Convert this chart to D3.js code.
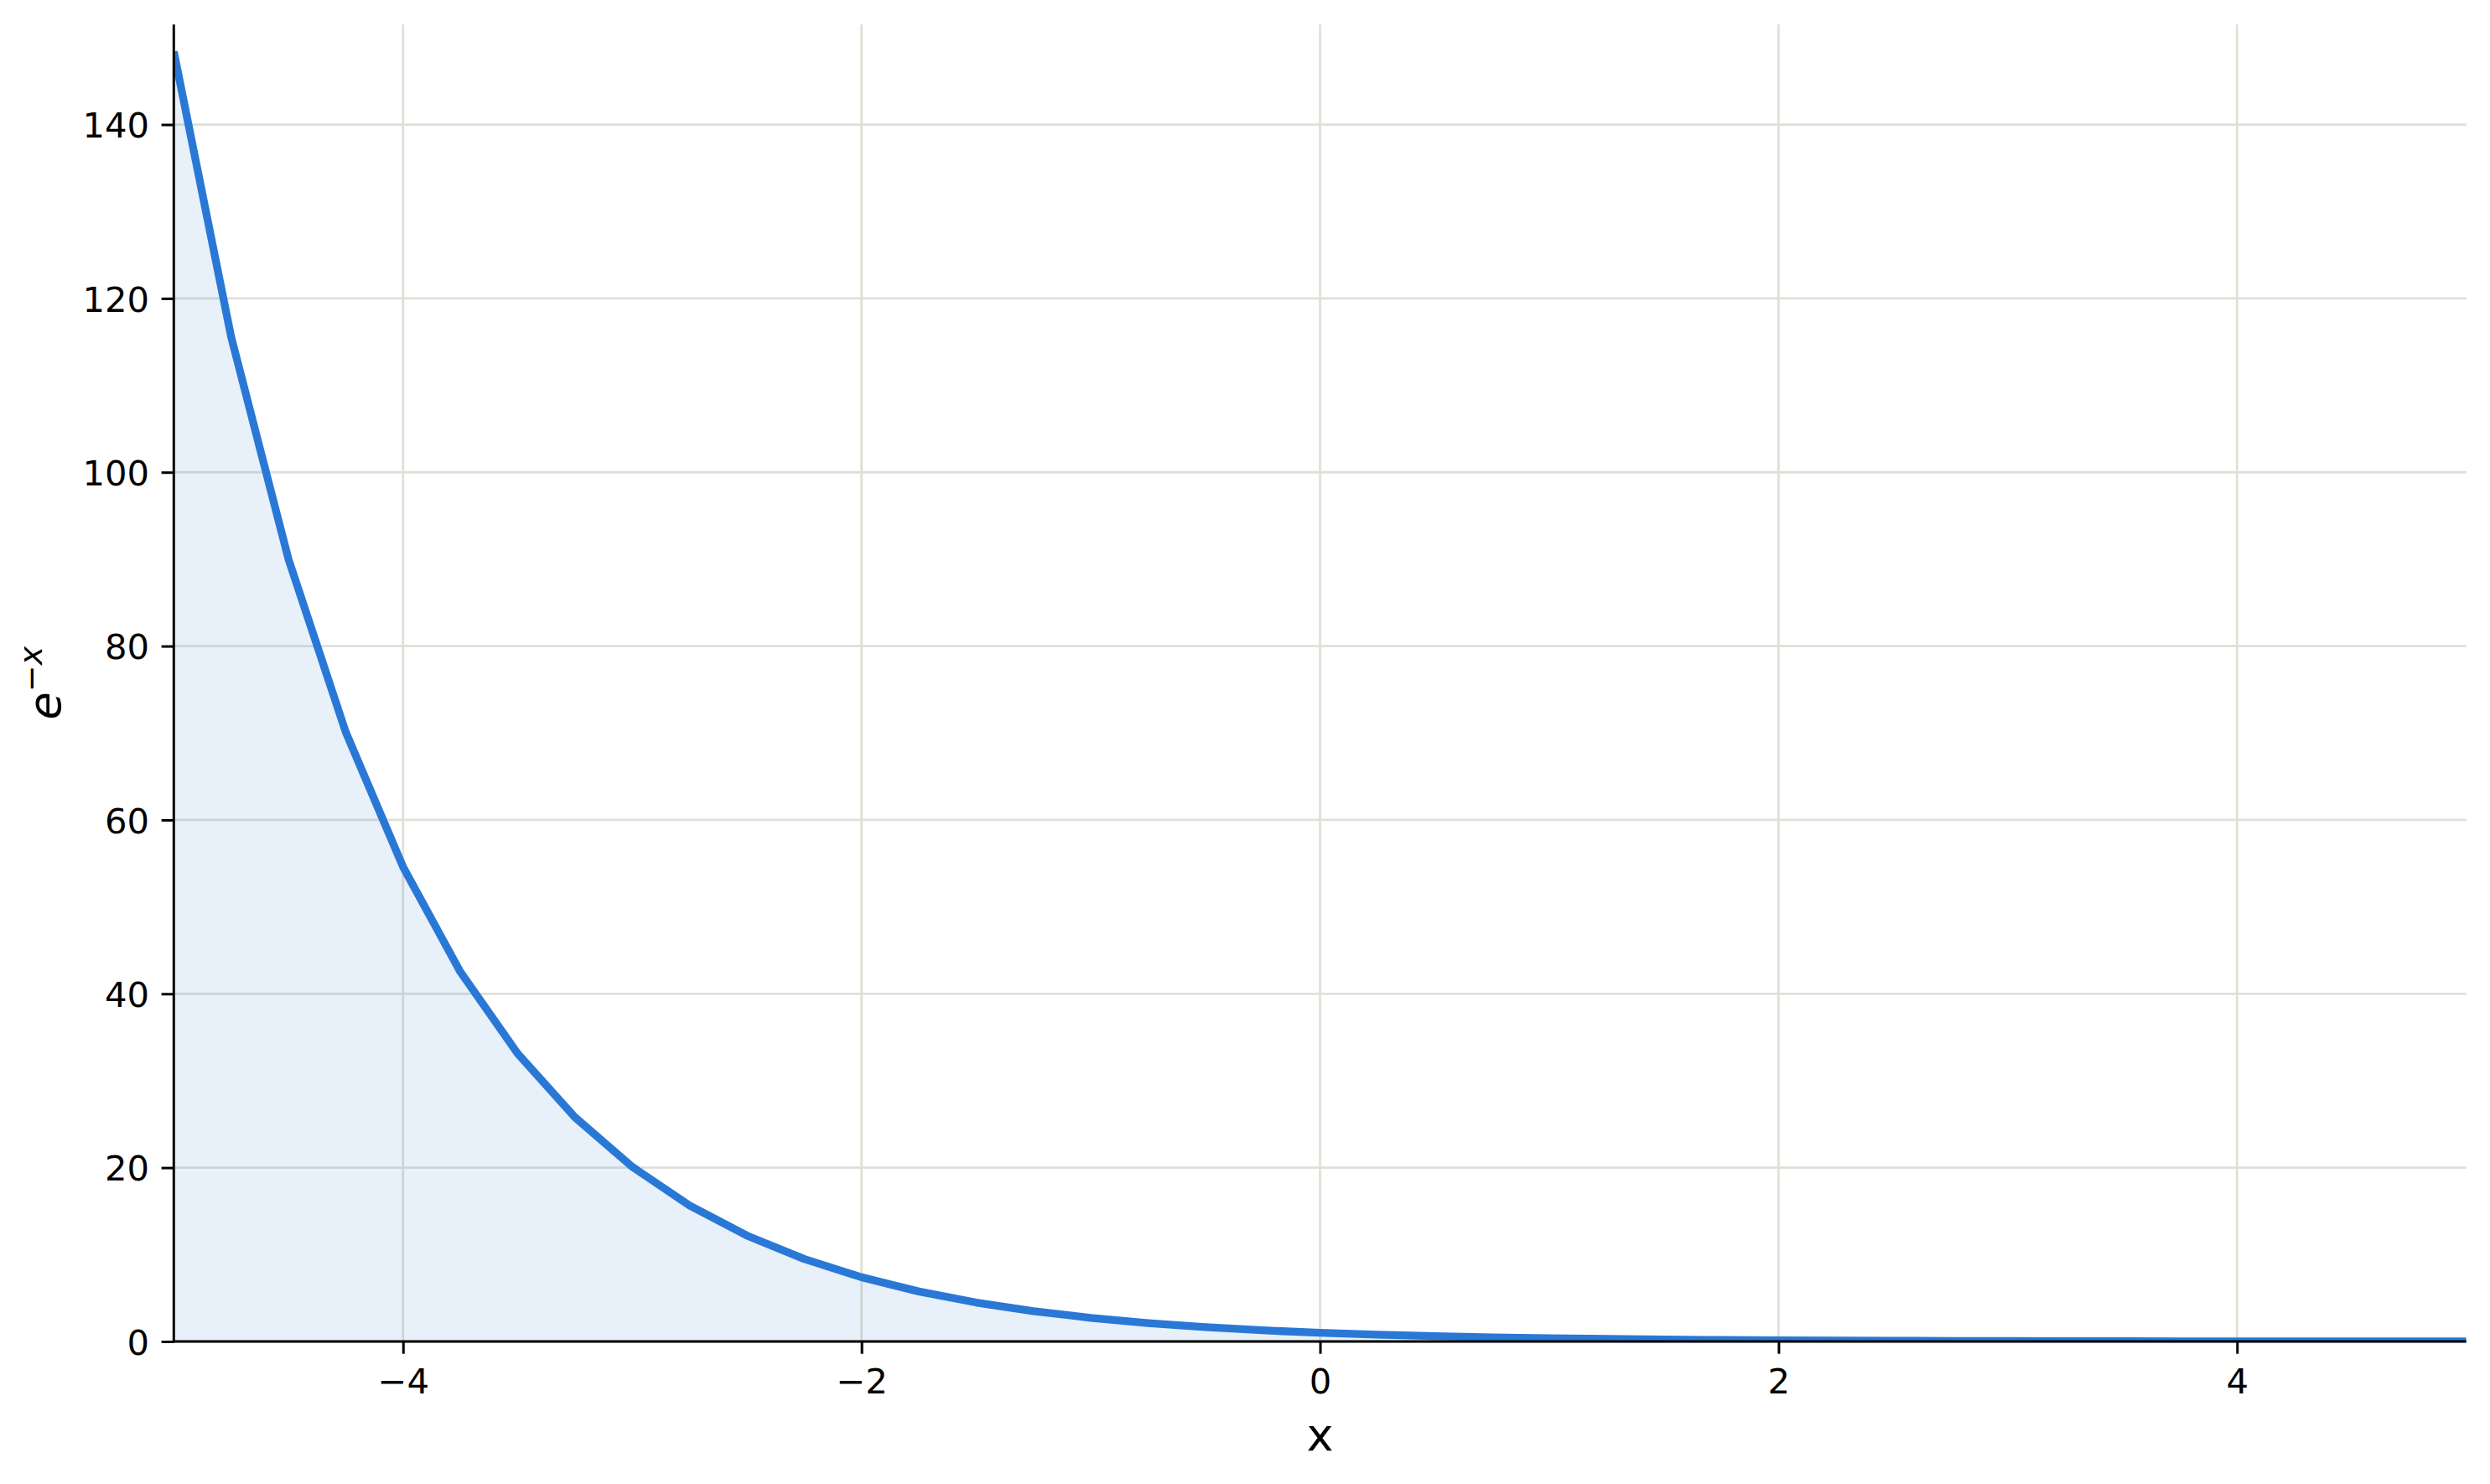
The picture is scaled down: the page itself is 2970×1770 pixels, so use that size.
<!DOCTYPE html>
<html>
<head>
<meta charset="utf-8">
<script src="https://cdn.jsdelivr.net/npm/d3@7"></script>
<style>
  html, body { margin: 0; padding: 0; background: #ffffff; }
  svg { display: block; }
  text { font-family: "DejaVu Sans", sans-serif; fill: #000; }
</style>
</head>
<body>
<svg id="chart" width="2970" height="1770"></svg>
<script>
// ---- data ----
const xValues = [-5, -4.75, -4.5, -4.25, -4, -3.75, -3.5, -3.25, -3, -2.75, -2.5, -2.25, -2,
  -1.75, -1.5, -1.25, -1, -0.75, -0.5, -0.25, 0, 0.25, 0.5, 0.75, 1, 1.25, 1.5, 1.75, 2,
  2.25, 2.5, 2.75, 3, 3.25, 3.5, 3.75, 4, 4.25, 4.5, 4.75, 5];
const yValues = [148.41, 115.58, 90.02, 70.11, 54.60, 42.52, 33.12, 25.79, 20.09, 15.64, 12.18,
  9.49, 7.39, 5.75, 4.48, 3.49, 2.72, 2.12, 1.65, 1.28, 1.00, 0.78, 0.61, 0.47, 0.37, 0.29,
  0.22, 0.17, 0.14, 0.11, 0.08, 0.06, 0.05, 0.04, 0.03, 0.02, 0.02, 0.01, 0.01, 0.01, 0.01];
const xTicks = [-4, -2, 0, 2, 4];
const xTickLabels = ["\u22124", "\u22122", "0", "2", "4"];
const yTicks = [0, 20, 40, 60, 80, 100, 120, 140];
const yTickLabels = ["0", "20", "40", "60", "80", "100", "120", "140"];
const xDomain = [-5, 5];
const yDomain = [0, 151.5];

(function () {
// ---- layout ----
const pL = 207.3, pR = 2941.7, pT = 29.3, pB = 1600;
const lineColor = "#2a78d6";
const gridColor = "#e0e0d7";

const svg = d3.select("#chart");
const x = d3.scaleLinear().domain(xDomain).range([pL, pR]);
const y = d3.scaleLinear().domain(yDomain).range([pB, pT]);

svg.append("defs").append("clipPath").attr("id", "plotclip")
  .append("rect").attr("x", pL).attr("y", pT)
  .attr("width", pR - pL).attr("height", pB - pT);

// grid
const grid = svg.append("g");
grid.selectAll("line.gx").data(xTicks).join("line").attr("class", "gx")
  .attr("x1", d => x(d)).attr("x2", d => x(d))
  .attr("y1", pT).attr("y2", pB)
  .attr("stroke", gridColor).attr("stroke-width", 2.8);
grid.selectAll("line.gy").data(yTicks).join("line").attr("class", "gy")
  .attr("y1", d => y(d)).attr("y2", d => y(d))
  .attr("x1", pL).attr("x2", pR)
  .attr("stroke", gridColor).attr("stroke-width", 2.8);

const pts = xValues.map((v, i) => [v, yValues[i]]);
const plot = svg.append("g").attr("clip-path", "url(#plotclip)");

plot.append("path").datum(pts)
  .attr("d", d3.area().x(d => x(d[0])).y0(y(0)).y1(d => y(d[1])))
  .attr("fill", lineColor).attr("fill-opacity", 0.11);

plot.append("path").datum(pts)
  .attr("d", d3.line().x(d => x(d[0])).y(d => y(d[1])))
  .attr("fill", "none").attr("stroke", lineColor)
  .attr("stroke-width", 9.3).attr("stroke-linejoin", "round");

// axes
const xAxis = d3.axisBottom(x).tickValues(xTicks)
  .tickFormat((d, i) => xTickLabels[i]).tickSize(14.7).tickPadding(18).tickSizeOuter(0);
const gx = svg.append("g").attr("transform", `translate(0,${pB})`).call(xAxis);
gx.select(".domain").attr("stroke", "#000").attr("stroke-width", 3)
  .attr("d", `M${pL - 1.5},0H${pR}`);
gx.selectAll(".tick line").attr("stroke", "#000").attr("stroke-width", 3);
gx.selectAll(".tick text").attr("font-size", 41.7).attr("font-family", "DejaVu Sans")
  .attr("fill", "#000").attr("dy", null).attr("y", 62).attr("dominant-baseline", "alphabetic");

const yAxis = d3.axisLeft(y).tickValues(yTicks)
  .tickFormat((d, i) => yTickLabels[i]).tickSize(14.7).tickPadding(14.5).tickSizeOuter(0);
const gy = svg.append("g").attr("transform", `translate(${pL},0)`).call(yAxis);
gy.select(".domain").attr("stroke", "#000").attr("stroke-width", 3)
  .attr("d", `M0,${pT}V${pB + 1.5}`);
gy.selectAll(".tick line").attr("stroke", "#000").attr("stroke-width", 3);
gy.selectAll(".tick text").attr("font-size", 41.7).attr("font-family", "DejaVu Sans")
  .attr("fill", "#000").attr("dy", null).attr("y", 15.3).attr("dominant-baseline", "alphabetic");

// axis labels
svg.append("text").attr("x", (pL + pR) / 2).attr("y", 1730)
  .attr("text-anchor", "middle").attr("font-size", 54).text("x");

const yl = svg.append("text")
  .attr("transform", `translate(72,${(pT + pB) / 2}) rotate(-90)`)
  .attr("text-anchor", "middle").attr("font-size", 54);
yl.append("tspan").attr("font-style", "italic").text("e");
yl.append("tspan").attr("font-size", 38).attr("dy", -22).text("\u2212");
yl.append("tspan").attr("font-size", 38).attr("font-style", "italic").text("x");
})();
</script>
</body>
</html>
